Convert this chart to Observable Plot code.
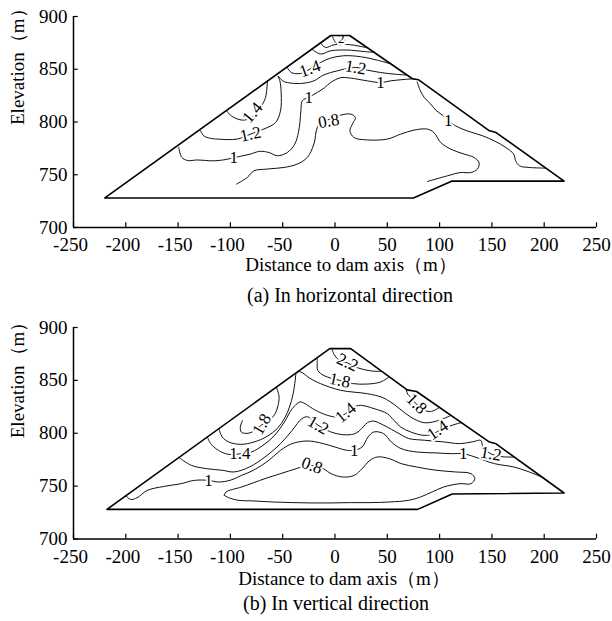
<!DOCTYPE html>
<html><head><meta charset="utf-8">
<script src="https://cdn.jsdelivr.net/npm/d3@7"></script>
<script src="https://cdn.jsdelivr.net/npm/@observablehq/plot@0.6"></script>
<style>
html,body{margin:0;padding:0;background:#fff;}
#wrap{position:relative;width:612px;height:621px;overflow:hidden;font-family:"Liberation Serif","Times New Roman",serif;background:#fff;}
.panel{position:absolute;left:0;}
.cap{position:absolute;font-size:20px;line-height:20px;white-space:nowrap;transform:translate(-50%,-50%);color:#000;font-family:"Liberation Serif","Times New Roman",serif;}
</style></head><body><div id="wrap"></div>
<script>
// ---------- axes ----------
const xTicks = [-250,-200,-150,-100,-50,0,50,100,150,200,250];
const yTicks = [700,750,800,850,900];
const xTitle = "Distance to dam axis（m）";
const yTitle = "Elevation（m）";
const captionA = "(a) In horizontal direction";
const captionB = "(b) In vertical direction";

// ---------- (a) horizontal direction ----------
const aOutline = [[-220,728],[-4,882],[14,882],[74,841],[80,840],[147,792],[154,790],[219,744],[112,744],[75,728],[-220,728]];
const aC10 = [[-149.4,776],[-146.5,766.5],[-141,763.5],[-131.8,764],[-115.9,763.2],[-104,764.5],[-96.7,766.2],[-88,768],[-80.8,769.6],[-72,772.2],[-63.2,771.1],[-55.2,768],[-45.6,771.1],[-38.5,779],[-35,790],[-33.5,800],[-32.5,812],[-31.3,820.1],[-25,823.5],[-16.9,828],[-10,832.5],[-4.2,837.4],[5.4,842],[14.9,841.6],[30.9,839],[43.6,837.4],[53.2,839],[65.9,840.3],[76,841]];
const aC10r = [[78.5,838],[81.7,829.5],[85.5,823],[91.5,817],[96.6,811],[102.7,806.5],[108.3,801.1],[115.2,796.4],[126.3,791.6],[141.2,786.9],[152.3,782.1],[163.4,775.8],[170.9,769.5],[172.7,763.2],[176.5,758.4],[185.7,756.9],[201,756.3]];
const aC08 = [[-94.2,741.1],[-83.9,747.4],[-77.6,753.7],[-64.8,755.4],[-48.9,756.9],[-36.1,760.1],[-26.5,766.4],[-20.2,779],[-16.9,794.8],[-12,800],[-2,803.5],[5.4,806.5],[14.9,807.5],[19.5,804.3],[16.6,798],[14.3,791.7],[18.1,785.3],[30.9,783],[50,783.8],[62.8,788.5],[75.5,792.3],[88.3,793.3],[94.6,790],[101,780.6],[110.6,774.3],[123.4,769.6],[132.9,766.4],[137.7,761.6],[136.2,755.4],[129.8,752.1],[120.2,752.1],[107.5,749],[88.3,743.6]];
const aC12 = [[-128.6,791.7],[-125.5,786.9],[-119,784.5],[-112.6,783.8],[-93.5,783.8],[-80.8,788.5],[-68,793.3],[-56.8,799.5],[-52.1,810.6],[-51.4,826.4],[-52.7,839],[-54.5,843.5],[-50,839],[-45.6,837.4],[-32.9,836.5],[-20.2,839],[-10.6,844.7],[2.2,848.5],[19.7,851.7],[30.9,849.2],[43.6,846.9],[56.4,845.4],[68,844.5]];
const aC14L = [[-103.7,810.6],[-100,806.5],[-96.7,804.3],[-88.7,801.8],[-80.8,803.5],[-76,807.5],[-71.2,813.7],[-66.4,823.2],[-64.8,835.9],[-64.5,839]];
const aC14U = [[-45.6,851.7],[-41.8,846.9],[-32.9,846],[-24,850.1],[-13.8,856.4],[-4.2,860.6],[8.5,862.8],[24.5,861.9],[40.5,858.6],[53.5,855]];
const aC16 = [[-22,869],[-13.8,864.4],[-4.2,867.5],[11.8,868.2],[27.7,866.8],[37.5,866]];
const aC18 = [[-14,875],[-9,870.6],[-1,873.2],[14.9,873.2],[27.7,871],[30,870.6]];
const aC20 = [[-2.6,881.5],[0.6,875.4],[5.4,873.2],[9.2,876.3],[8.5,881.5]];
const aLabels = [
  [-96.7,766.2,"1",0],[-25,823.5,"1",0],[43.6,837.4,"1",0],[108.3,801.1,"1",0],
  [-6,801,"0.8",-10],[-80.8,788.5,"1.2",-12],[19.7,851.7,"1.2",10],
  [-79,809,"1.4",-50],[-24,850.5,"1.4",-20],[6,879,"2",0]
];

// ---------- (b) vertical direction ----------
const bOutline = [[-218,728],[-5,880],[15,880],[69,841],[78,839.5],[147,792],[154,790],[219,743.5],[112,742.5],[79,728],[-218,728]];
const bC22 = [[-3,879.5],[-0.5,874],[4,869],[12,866.5],[21.3,862],[34.1,859],[44.5,858.5]];
const bC18t = [[-17,871.5],[-17,866],[-16.5,859.5],[-10.5,854.5],[4.5,850],[16.6,847],[30.9,846.5],[43.7,848.5],[52,853.5]];
const bC18l = [[-88.5,812],[-90.5,806],[-89.5,801],[-83,800],[-76,803],[-70,808],[-63,812],[-57.5,818],[-54.5,826],[-53.5,835],[-56,843.5]];
const bC18r = [[68,841.5],[69.5,837],[72.4,834],[76,829.5],[82,824],[89.9,820.5],[94.7,821.5],[99.8,824.5]];
const bC16 = [[-111,804.3],[-107.8,796.4],[-101.5,791.7],[-90.3,789.5],[-77.5,791.7],[-64.8,797.1],[-55.2,804.5],[-48,814.5],[-43.5,824.8],[-40,837.4],[-38,850],[-36.7,857.5],[-32.9,858],[-24,852],[-13.8,846.9],[5.4,840.6],[30.9,837.4],[45,834],[53.2,829.5],[62,823],[72.4,815.3],[85,810],[97,811.5],[110,816.5]];
const bC14 = [[-122,796.5],[-118.9,790.2],[-111.5,783.9],[-102.2,780.1],[-91,780.5],[-79.9,782.3],[-68.8,788.6],[-57.6,798.1],[-48.3,810.7],[-40.9,823.3],[-33.5,829.6],[-29.7,828.5],[-18.6,821.7],[-7.4,817],[2.2,815.4],[10.1,818.5],[18.1,824.8],[24.5,826.4],[37.3,823.3],[50,818.5],[56.4,812.2],[62.8,805.9],[72.4,801.2],[85.1,798],[94.7,799.6],[100,803],[107.4,805.9],[117,809.1],[121,810]];
const bC12 = [[-149,777],[-137.5,769.7],[-122.6,766.5],[-107.8,765],[-96.6,763.4],[-81.8,768.1],[-66.9,777.6],[-52,790.2],[-40.9,802.8],[-31.6,813.9],[-26,815.5],[-20.5,811],[-16.2,807.6],[-8,803],[0,800],[11,798.5],[20,800],[27,806],[31,810],[37,811.5],[46.5,807.6],[61.2,799.7],[70.5,795],[85.4,793.4],[104,791.8],[119,790.2],[132,792],[139.3,793.3],[141,788.5],[144.1,783.8],[149,780.6],[158,778],[171,777.5]];
const bC10 = [[-200,741],[-195.5,737.4],[-189.2,739],[-179.6,745.9],[-163.7,749.7],[-147.7,752.2],[-134.9,755.4],[-121,755.5],[-111.5,753.9],[-100.3,755.5],[-89.2,760.2],[-78,765],[-63.2,774.4],[-52,783.9],[-40.9,790.2],[-26,792.7],[-11.2,790.2],[-0.1,787],[11.1,783.9],[18.5,783.9],[25.9,787],[31.6,796.5],[37.1,801.2],[46.4,799.7],[53.8,791.8],[63.1,785.5],[78,782.3],[96.6,781.4],[111.4,780.7],[122.6,780.7],[133.7,777.6],[152.3,771.3],[170.9,768.1],[185.7,763.4],[197.5,758.6]];
const bC08 = [[-105.9,741.3],[-104.1,744.5],[-89.2,749.2],[-66.9,757.1],[-52,761.8],[-37.1,766.5],[-26,769.7],[-11.2,766.5],[-3.8,761.8],[7.4,758.6],[18.5,760.2],[25.9,766.5],[33.4,774.4],[40.8,777.6],[51.9,776],[63.2,771.3],[78,768.1],[96.6,765],[115.1,763.4],[130,761.8],[133.7,757.1],[130,752.3],[119.4,752.3],[104,749.2],[92.9,744.5],[81.7,739.7],[70.5,736.6],[51.9,735],[33.4,734.4],[14.9,734.4],[-3.8,734.1],[-22.3,734.1],[-40.9,734.4],[-59.5,735],[-78,736],[-92.4,736.6],[-101.7,739.1],[-105.9,741.3]];
const bLabels = [
  [12,867,"2.2",25],[4.5,850,"1.8",12],[78,828,"1.8",45],[-70,808.5,"1.8",-60],
  [10.1,819.5,"1.4",-40],[98,803,"1.4",-35],[-91,780.5,"1.4",0],
  [-16.2,807.6,"1.2",30],[149,780.6,"1.2",10],
  [18.5,784,"1",0],[122.6,780.7,"1",0],[-121,755.5,"1",0],
  [-22,769.5,"0.8",20]
];

const FONT = '"Liberation Serif", "Times New Roman", serif';

function panel(cfg) {
  const rows = cfg.contours.flatMap((c, i) => c.map(([x, y]) => ({x, y, id: i})));
  const plotBottom = cfg.marginTop + cfg.plotH;
  return Plot.plot({
    width: 612, height: cfg.height,
    marginLeft: 73, marginRight: 16, marginTop: cfg.marginTop, marginBottom: cfg.height - plotBottom,
    x: {domain: [-250, 250]},
    y: {domain: [700, 900]},
    style: {fontFamily: FONT, fontSize: "19px", background: "white", color: "black", overflow: "visible"},
    marks: [
      Plot.line(rows, {x: "x", y: "y", z: "id", stroke: "#111", strokeWidth: 1, curve: "catmull-rom"}),
      Plot.text(cfg.labels, {x: d => d[0], y: d => d[1], text: d => d[2], rotate: d => d[3], fontSize: d => d[2] === "2" ? 13 : 17, fill: "#000", stroke: "white", strokeWidth: 4, paintOrder: "stroke", fontFamily: FONT}),
      Plot.line(cfg.outline, {x: d => d[0], y: d => d[1], stroke: "#000", strokeWidth: 1.6}),
      Plot.ruleX(xTicks, {y1: 700, y2: 704.5, stroke: "#000", strokeWidth: 1.2}),
      Plot.ruleY(yTicks, {x1: -250, x2: -245.5, stroke: "#000", strokeWidth: 1.2}),
      Plot.ruleX([-250], {y1: 700, y2: 900, stroke: "#000", strokeWidth: 1.5}),
      Plot.ruleY([700], {x1: -250, x2: 250, stroke: "#000", strokeWidth: 1.5}),
      Plot.axisX(xTicks.filter(v => v < 0), {tickSize: 0, tickPadding: 10, dx: -3, fontSize: 19, label: null, tickFormat: d => String(d), fontFamily: FONT}),
      Plot.axisX(xTicks.filter(v => v >= 0), {tickSize: 0, tickPadding: 10, fontSize: 19, label: null, tickFormat: d => String(d), fontFamily: FONT}),
      Plot.axisY(yTicks, {tickSize: 0, tickPadding: 6, fontSize: 19, label: null, tickFormat: d => String(d), fontFamily: FONT}),
      Plot.text([xTitle], {text: d => d, frameAnchor: "bottom", dy: cfg.xTitleDy, dx: cfg.xTitleDx, fontSize: 19, fontFamily: FONT}),
      Plot.text([yTitle], {text: d => d, frameAnchor: "left", rotate: -90, dx: -56, dy: cfg.yTitleDy, fontSize: 19, fontFamily: FONT})
    ]
  });
}

const wrap = document.getElementById("wrap");
function place(node, top) {
  const d = document.createElement("div");
  d.className = "panel"; d.style.top = top + "px";
  d.appendChild(node); wrap.appendChild(d);
}
function caption(text, cx, cy) {
  const d = document.createElement("div");
  d.className = "cap"; d.textContent = text;
  d.style.left = cx + "px"; d.style.top = cy + "px";
  wrap.appendChild(d);
}

place(panel({
  height: 282, marginTop: 16, plotH: 211,
  contours: [aC10, aC10r, aC08, aC12, aC14L, aC14U, aC16, aC18, aC20],
  outline: aOutline, labels: aLabels, xTitleDy: 43, xTitleDx: 16, yTitleDy: 3
}), 0);
caption(captionA, 350, 295);

place(panel({
  height: 290, marginTop: 17, plotH: 211.5,
  contours: [bC22, bC18t, bC18l, bC18r, bC16, bC14, bC12, bC10, bC08],
  outline: bOutline, labels: bLabels, xTitleDy: 46, xTitleDx: 9, yTitleDy: 5
}), 310);
caption(captionB, 336, 603);
</script></body></html>
